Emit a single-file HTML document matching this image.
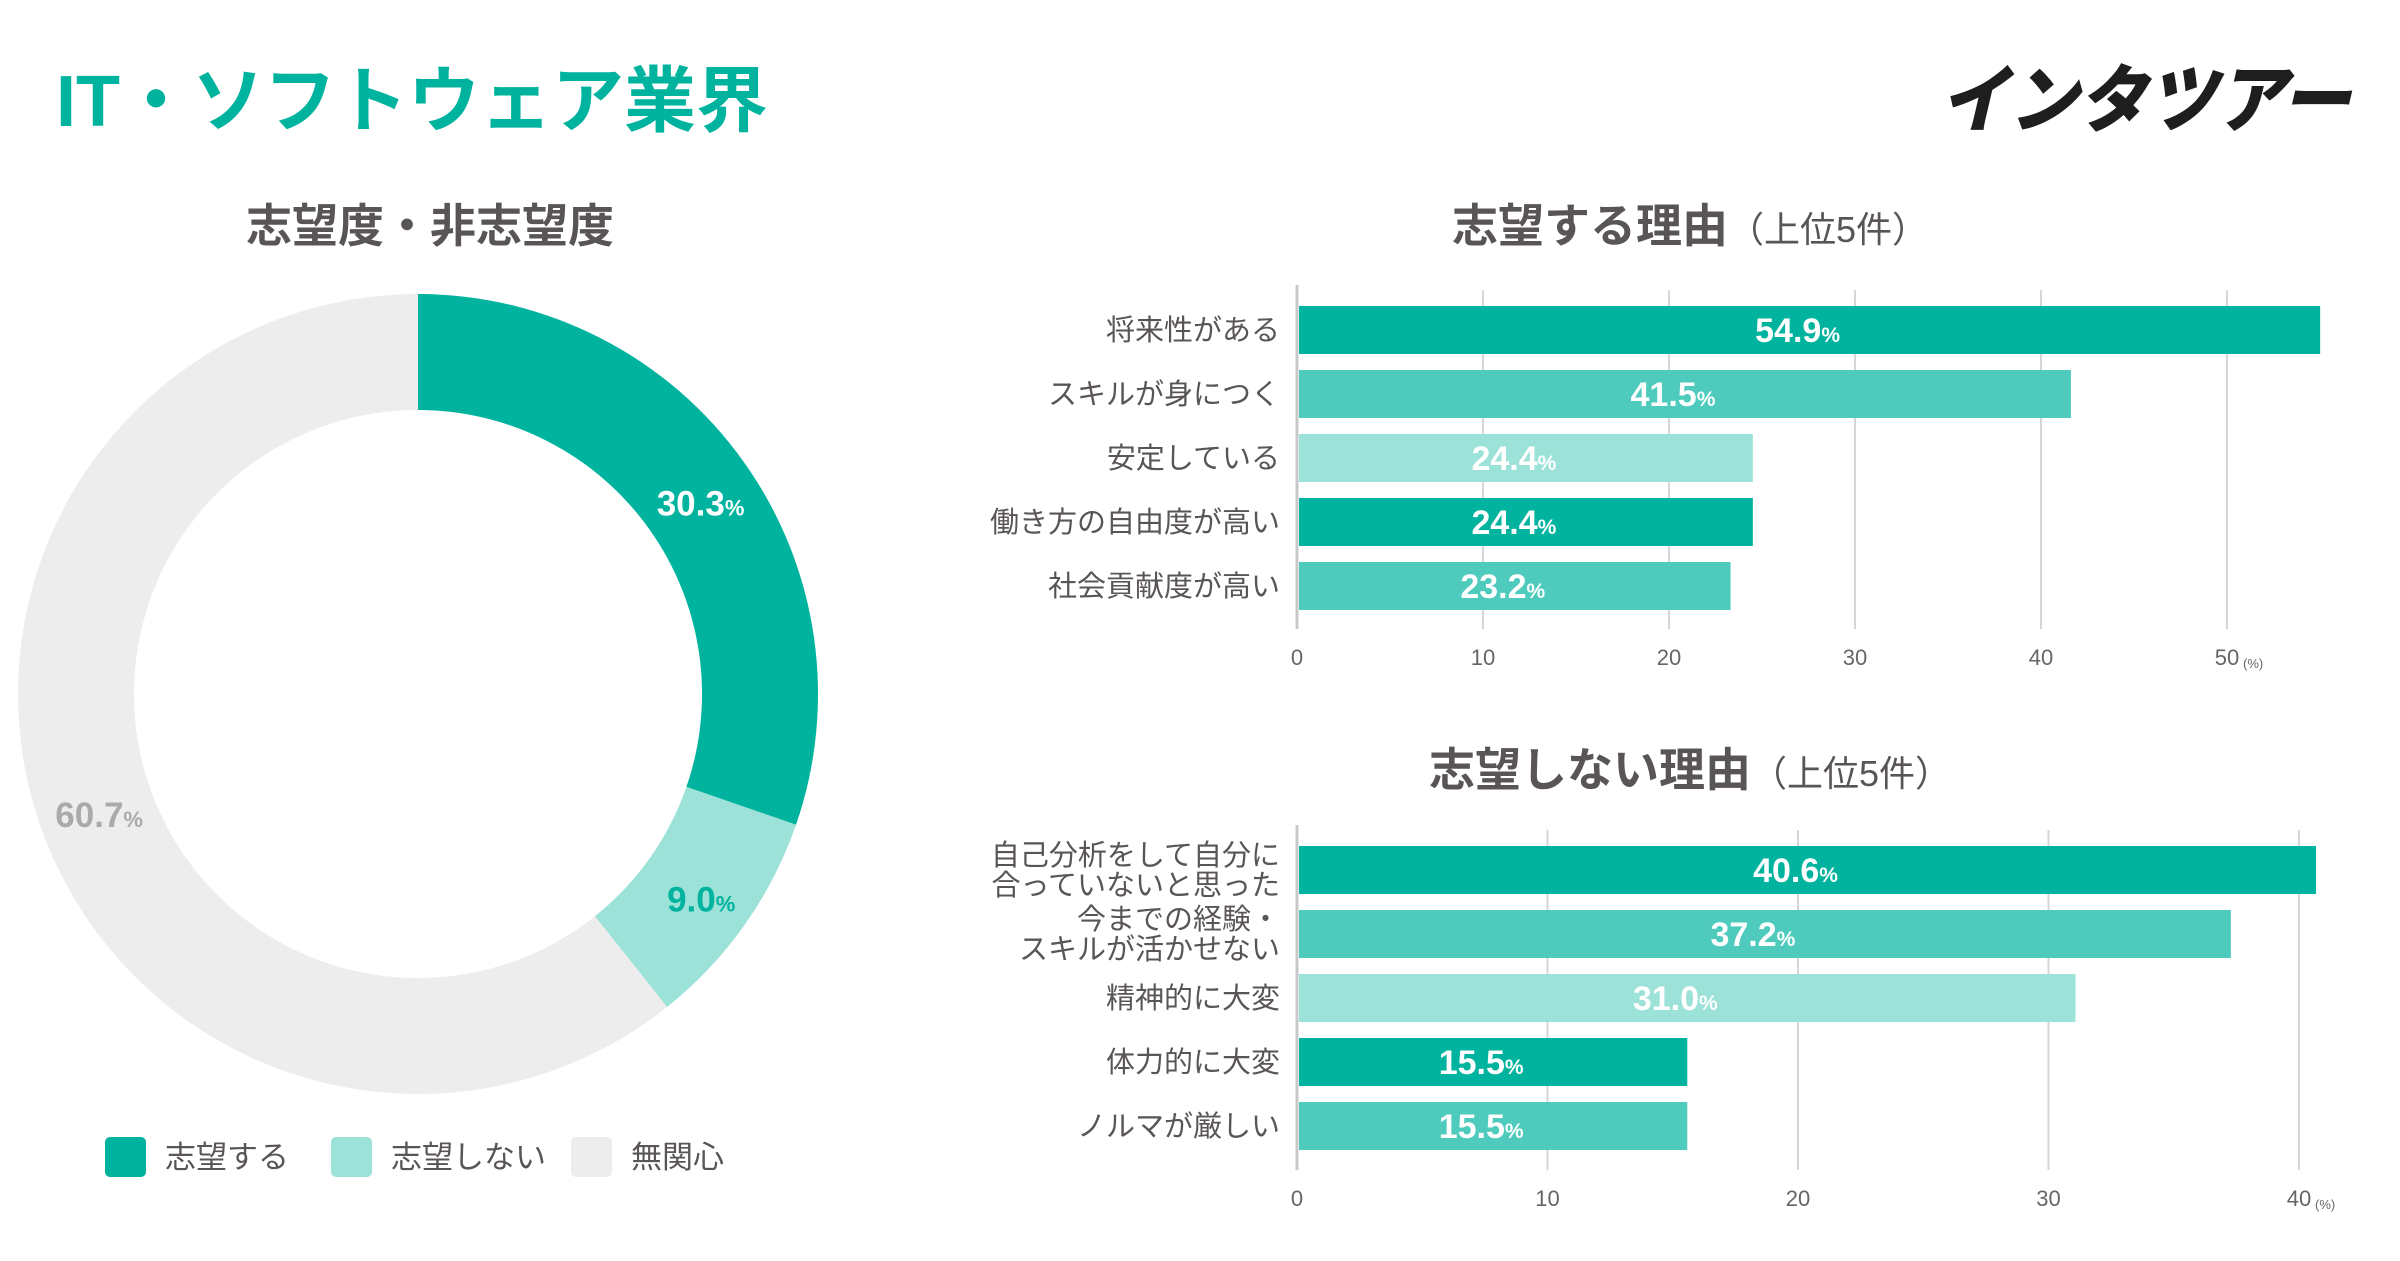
<!DOCTYPE html>
<html><head><meta charset="utf-8">
<style>
html,body{margin:0;padding:0;background:#fff;}
body{width:2400px;height:1256px;overflow:hidden;position:relative;font-family:"Liberation Sans","Noto Sans CJK JP",sans-serif;}
</style></head>
<body>
<svg id="chart" width="2400" height="1256" viewBox="0 0 2400 1256" xmlns="http://www.w3.org/2000/svg" font-family="'Liberation Sans','Noto Sans CJK JP',sans-serif">
<text x="56" y="126" font-size="72" font-weight="bold" fill="#00b39e">IT・ソフトウェア業界</text>
<text x="2350" y="126" text-anchor="end" font-size="74" font-weight="900" font-style="italic" fill="#1e1e1e" textLength="410" lengthAdjust="spacingAndGlyphs">インタツアー</text>
<text x="430" y="242" text-anchor="middle" font-size="46" font-weight="bold" fill="#5a5555">志望度・非志望度</text>
<text x="1690" y="242" text-anchor="middle" font-size="46" font-weight="bold" fill="#5a5555">志望する理由<tspan font-size="36" font-weight="normal">（上位5件）</tspan></text>
<text x="1690" y="786" text-anchor="middle" font-size="46" font-weight="bold" fill="#5a5555">志望しない理由<tspan font-size="36" font-weight="normal">（上位5件）</tspan></text>
<g id="donut"></g>
<g id="top"></g>
<g id="bottom"></g>
<g id="legend"></g>
</svg>
<script>
const NS='http://www.w3.org/2000/svg';
const pieLabels=['志望する','志望しない','無関心'];
const pieValues=[30.3,9.0,60.7];
const pieColors=['#00b39e','#9de2d9','#ededed'];
const topCats=['将来性がある','スキルが身につく','安定している','働き方の自由度が高い','社会貢献度が高い'];
const topValues=[54.9,41.5,24.4,24.4,23.2];
const topTicks=[0,10,20,30,40,50];
const botCats=[['自己分析をして自分に','合っていないと思った'],['今までの経験・','スキルが活かせない'],['精神的に大変'],['体力的に大変'],['ノルマが厳しい']];
const botValues=[40.6,37.2,31.0,15.5,15.5];
const botTicks=[0,10,20,30,40];
const barColors=['#00b39e','#4ecbbd','#9de2d9','#00b39e','#4ecbbd'];

function mk(tag,attrs,parent){const e=document.createElementNS(NS,tag);for(const k in attrs)e.setAttribute(k,attrs[k]);parent.appendChild(e);return e;}

// donut
const dg=document.getElementById('donut');
const cx=418,cy=694,R=400,r=284;
let acc=0;const tot=pieValues.reduce((a,b)=>a+b,0);
pieValues.forEach((v,i)=>{
  const a0=acc/tot*2*Math.PI-Math.PI/2;acc+=v;const a1=acc/tot*2*Math.PI-Math.PI/2;
  const large=(a1-a0)>Math.PI?1:0;
  const p=`M${cx+R*Math.cos(a0)},${cy+R*Math.sin(a0)} A${R},${R} 0 ${large} 1 ${cx+R*Math.cos(a1)},${cy+R*Math.sin(a1)} L${cx+r*Math.cos(a1)},${cy+r*Math.sin(a1)} A${r},${r} 0 ${large} 0 ${cx+r*Math.cos(a0)},${cy+r*Math.sin(a0)} Z`;
  const s=mk('path',{d:p,fill:pieColors[i]},dg);
  
  
  const am=(a0+a1)/2;const lr=(R+r)/2;
  const lx=cx+lr*Math.cos(am),ly=cy+lr*Math.sin(am);
  const t=mk('text',{x:lx+4,y:ly+20,'text-anchor':'middle','font-size':35,'font-weight':'bold',fill:i==0?'#fff':(i==1?'#00b39e':'#aaaaaa')},dg);
  
  
  t.innerHTML=v.toFixed(1)+'<tspan font-size="22">%</tspan>';
});

// legend
const lg=document.getElementById('legend');
const lx=[105,331,571];
pieLabels.forEach((l,i)=>{
  const g=mk('g',{},lg);
  
  
  mk('rect',{x:lx[i],y:1137,width:41,height:40,rx:5,fill:pieColors[i]},g);
  const t=mk('text',{x:lx[i]+60,y:1168,'font-size':31,fill:'#5a5555'},g);
  t.textContent=l;
});

function barChart(gid,cats,vals,ticks,x0,unit,gridTop,axisTop,axisBottom,firstBarTop,pitch,barH,tickY,name){
  const g=document.getElementById(gid);
  ticks.forEach((t,i)=>{
    const x=x0+t*unit;
    const ln=mk('line',{x1:x,x2:x,y1:i==0?axisTop:gridTop,y2:axisBottom,stroke:i==0?'#c8c8c8':'#d6d6d6','stroke-width':i==0?3:2},g);
    
    
    const tx=mk('text',{x:x,y:tickY,'text-anchor':'middle','font-size':22,fill:'#666'},g);
    
    
    tx.textContent=t;
    if(i==ticks.length-1){const u=mk('text',{x:x+16,y:tickY+3,'font-size':13,fill:'#666'},g);u.textContent='(%)';}
  });
  vals.forEach((v,i)=>{
    const y=firstBarTop+i*pitch;
    const w=v*unit;
    const b=mk('rect',{x:x0+2,y:y,width:w,height:barH,fill:barColors[i]},g);
    
    
    const vt=mk('text',{x:x0+w/2-10,y:y+barH/2+12,'text-anchor':'middle','font-size':34,'font-weight':'bold',fill:'#fff'},g);
    
    
    vt.innerHTML=v.toFixed(1)+'<tspan font-size="21">%</tspan>';
    const c=Array.isArray(cats[i])?cats[i]:[cats[i]];
    c.forEach((line,j)=>{
      const ly=y+barH/2+10+(j-(c.length-1)/2)*30;
      const ct=mk('text',{x:1280,y:ly,'text-anchor':'end','font-size':29,fill:'#5a5555'},g);
      
      
      ct.textContent=line;
    });
  });
}
barChart('top',topCats,topValues,topTicks,1297,18.6,290,285,629,306,64,48,665,'top-chart');
barChart('bottom',botCats,botValues,botTicks,1297,25.05,830,825,1170,846,64,48,1206,'bottom-chart');
</script>
</body></html>
